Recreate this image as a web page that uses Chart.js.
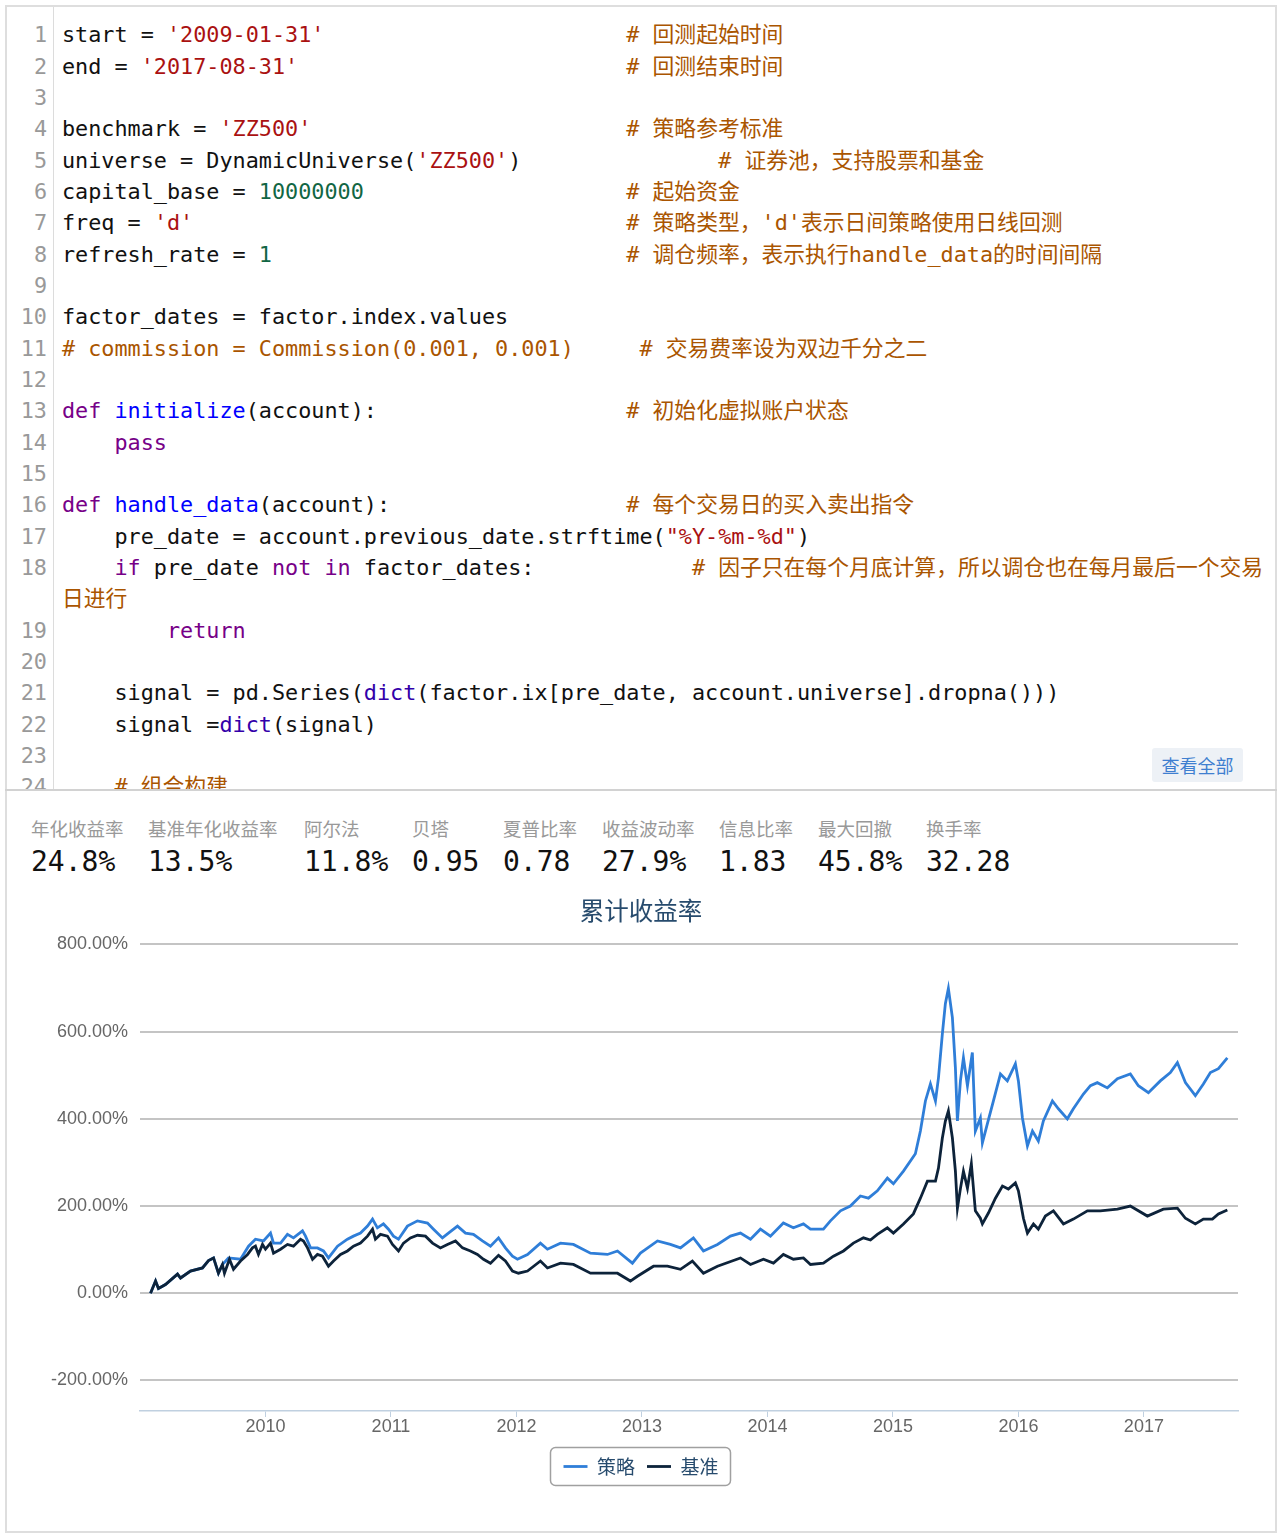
<!DOCTYPE html>
<html>
<head>
<meta charset="utf-8">
<script src="https://cdn.jsdelivr.net/npm/chart.js@4/dist/chart.umd.min.js"></script>
<style>
  body { margin: 0; width: 1280px; height: 1537px; position: relative; overflow: hidden; background: #fff; font-family: 'Noto Sans CJK SC', sans-serif; }
  #frame { position: absolute; left: 5px; top: 5px; width: 1268px; height: 1524px; border: 2px solid #dedede; }
  #code { position: absolute; left: 7px; top: 7px; width: 1266px; height: 783px; overflow: hidden; }
  #gutter { position: absolute; left: 0; top: 0; width: 46px; height: 100%; border-right: 1px solid #dcdcdc; }
  #rows { position: absolute; left: 0; top: 12.3px; width: 100%; }
  .row { position: relative; height: 31.33px; line-height: 31.33px; white-space: pre; font-family: 'DejaVu Sans Mono', 'Noto Sans CJK SC', monospace; font-size: 21.8px; color: #111; }
  .num { position: absolute; left: 0; width: 40px; text-align: right; color: #999; }
  .txt { position: absolute; left: 55px; }
  .s { color: #a11; } .n { color: #164; } .c { color: #a50; } .k { color: #708; } .d { color: #00f; } .b { color: #30a; }
  #more { position: absolute; left: 1145px; top: 741px; width: 91px; height: 34px; line-height: 34px; text-align: center; background: #edf1f6; color: #3f7fd0; font-size: 18px; border-radius: 3px; }
  #sep { position: absolute; left: 5px; top: 789px; width: 1272px; height: 2px; background: #d2d2d2; }
  .lab { position: absolute; top: 815px; font-size: 18.5px; line-height: 26px; color: #999; white-space: nowrap; }
  .val { position: absolute; top: 844px; font-family: 'DejaVu Sans Mono', monospace; font-size: 28px; line-height: 36px; color: #111; white-space: nowrap; }
  #chartBox { position: absolute; left: 0; top: 888px; width: 1280px; height: 612px; }
</style>
</head>
<body>
<div id="frame"></div>
<div id="code"><div id="gutter"></div><div id="rows"></div><div id="more">查看全部</div></div>
<div id="sep"></div>
<div id="stats"></div>
<div id="chartBox"><canvas id="graficoRetorno"></canvas></div>
<script>
// ---- datos ----
const statLabels = ['年化收益率', '基准年化收益率', '阿尔法', '贝塔', '夏普比率', '收益波动率', '信息比率', '最大回撤', '换手率'];
const statValues = ['24.8%', '13.5%', '11.8%', '0.95', '0.78', '27.9%', '1.83', '45.8%', '32.28'];
const statLeft = [31, 148, 304, 412, 503, 602, 719, 818, 926];

const seriesNames = ['策略', '基准'];
const xTicks = [2010, 2011, 2012, 2013, 2014, 2015, 2016, 2017];
const yTicks = [-200, 0, 200, 400, 600, 800];

const stratDates = [2009.084, 2009.124, 2009.147, 2009.203, 2009.299, 2009.323, 2009.402, 2009.498, 2009.546, 2009.586, 2009.625, 2009.657, 2009.705, 2009.801, 2009.865, 2009.920, 2009.984,
  2010.040, 2010.064, 2010.120, 2010.175, 2010.223, 2010.295, 2010.319, 2010.359, 2010.414, 2010.462, 2010.502, 2010.574, 2010.653, 2010.701, 2010.757, 2010.813, 2010.853, 2010.892, 2010.940, 2010.980,
  2011.020, 2011.060, 2011.131, 2011.211, 2011.291, 2011.339, 2011.410, 2011.458, 2011.530, 2011.594, 2011.657, 2011.729, 2011.793, 2011.857, 2011.912, 2011.968,
  2012.008, 2012.088, 2012.191, 2012.247, 2012.351, 2012.454, 2012.590, 2012.725, 2012.805, 2012.924, 2012.988,
  2013.124, 2013.227, 2013.307, 2013.410, 2013.490, 2013.602, 2013.705, 2013.785, 2013.865, 2013.944,
  2014.024, 2014.127, 2014.207, 2014.287, 2014.343, 2014.446, 2014.502, 2014.582, 2014.661, 2014.741, 2014.805, 2014.876, 2014.956,
  2015.004, 2015.084, 2015.179, 2015.219, 2015.259, 2015.299, 2015.339, 2015.363, 2015.394, 2015.418, 2015.442, 2015.474, 2015.498, 2015.514, 2015.538, 2015.562, 2015.594, 2015.633, 2015.657, 2015.697, 2015.713, 2015.753, 2015.801, 2015.857, 2015.912, 2015.976,
  2016.000, 2016.032, 2016.072, 2016.112, 2016.159, 2016.199, 2016.271, 2016.319, 2016.390, 2016.438, 2016.518, 2016.574, 2016.629, 2016.709, 2016.789, 2016.892, 2016.956,
  2017.036, 2017.131, 2017.211, 2017.267, 2017.331, 2017.410, 2017.474, 2017.530, 2017.594, 2017.665];
const stratValues = [0, 28, 11, 20, 44, 35, 51, 58, 75, 81, 46, 66, 81, 78, 108, 124, 120,
  138, 115, 115, 135, 127, 143, 131, 104, 104, 97, 81, 108, 124, 131, 138, 154, 170, 150, 159, 147,
  131, 124, 154, 166, 161, 147, 127, 138, 154, 138, 135, 120, 108, 127, 104, 85,
  78, 89, 115, 101, 115, 112, 92, 89, 97, 69, 92,
  120, 112, 104, 127, 97, 112, 131, 138, 124, 147,
  131, 161, 150, 159, 147, 147, 166, 189, 200, 223, 218, 235, 264,
  251, 280, 320, 372, 441, 480, 441, 494, 595, 664, 699, 632, 517, 395, 487, 540, 476, 552, 372, 402, 345, 389, 441, 503, 487, 526,
  487, 402, 338, 372, 349, 395, 441, 423, 400, 423, 457, 476, 483, 471, 492, 503, 476,
  460, 487, 506, 529, 483, 453, 480, 506, 515, 540];

const benchDates = [2009.084, 2009.124, 2009.147, 2009.203, 2009.299, 2009.323, 2009.402, 2009.498, 2009.546, 2009.586, 2009.625, 2009.657, 2009.673, 2009.713, 2009.745, 2009.801, 2009.857, 2009.896, 2009.920, 2009.944, 2009.976,
  2010.000, 2010.040, 2010.064, 2010.120, 2010.175, 2010.223, 2010.279, 2010.303, 2010.335, 2010.375, 2010.414, 2010.454, 2010.502, 2010.542, 2010.598, 2010.653, 2010.701, 2010.757, 2010.813, 2010.853, 2010.876, 2010.916, 2010.972,
  2011.012, 2011.060, 2011.100, 2011.155, 2011.211, 2011.275, 2011.331, 2011.394, 2011.450, 2011.514, 2011.570, 2011.633, 2011.689, 2011.737, 2011.793, 2011.857, 2011.912, 2011.968,
  2012.016, 2012.088, 2012.191, 2012.247, 2012.351, 2012.454, 2012.590, 2012.693, 2012.805, 2012.908, 2012.964,
  2013.092, 2013.203, 2013.307, 2013.402, 2013.490, 2013.602, 2013.785, 2013.865, 2013.968,
  2014.048, 2014.127, 2014.207, 2014.287, 2014.343, 2014.446, 2014.526, 2014.606, 2014.685, 2014.765, 2014.821, 2014.876, 2014.956,
  2015.004, 2015.084, 2015.163, 2015.219, 2015.275, 2015.339, 2015.363, 2015.394, 2015.418, 2015.442, 2015.474, 2015.498, 2015.514, 2015.538, 2015.562, 2015.594, 2015.625, 2015.657, 2015.697, 2015.713, 2015.761, 2015.817, 2015.873, 2015.920, 2015.976,
  2016.000, 2016.040, 2016.072, 2016.120, 2016.159, 2016.215, 2016.279, 2016.359, 2016.438, 2016.550, 2016.653, 2016.789, 2016.892,
  2017.028, 2017.155, 2017.267, 2017.331, 2017.410, 2017.474, 2017.546, 2017.594, 2017.665];
const benchValues = [0, 28, 11, 20, 44, 35, 51, 58, 75, 81, 46, 66, 46, 78, 55, 74, 89, 104, 108, 89, 112,
  101, 115, 92, 101, 112, 108, 124, 120, 104, 78, 89, 85, 62, 74, 89, 97, 108, 115, 131, 147, 124, 135, 131,
  112, 97, 115, 127, 133, 131, 115, 104, 112, 120, 104, 97, 89, 78, 69, 87, 74, 51,
  46, 51, 74, 58, 69, 66, 46, 46, 46, 28, 39,
  62, 62, 55, 74, 46, 62, 81, 66, 78,
  69, 89, 78, 81, 66, 69, 85, 97, 115, 127, 122, 135, 150,
  138, 159, 182, 218, 257, 257, 287, 356, 395, 418, 356, 280, 195, 240, 280, 241, 297, 189, 172, 159, 184, 218, 246, 239, 253,
  235, 172, 138, 159, 147, 177, 189, 159, 170, 189, 189, 193, 200,
  177, 193, 195, 172, 159, 170, 170, 182, 191];

// ---- código ----
const codeLines = [
  [[['', 'start = '], ['s', "'2009-01-31'"]], 43, '# 回测起始时间'],
  [[['', 'end = '], ['s', "'2017-08-31'"]], 43, '# 回测结束时间'],
  [[]],
  [[['', 'benchmark = '], ['s', "'ZZ500'"]], 43, '# 策略参考标准'],
  [[['', 'universe = DynamicUniverse('], ['s', "'ZZ500'"], ['', ')']], 50, '# 证券池，支持股票和基金'],
  [[['', 'capital_base = '], ['n', '10000000']], 43, '# 起始资金'],
  [[['', 'freq = '], ['s', "'d'"]], 43, "# 策略类型，'d'表示日间策略使用日线回测"],
  [[['', 'refresh_rate = '], ['n', '1']], 43, '# 调仓频率，表示执行handle_data的时间间隔'],
  [[]],
  [[['', 'factor_dates = factor.index.values']]],
  [[['c', '# commission = Commission(0.001, 0.001)']], 44, '# 交易费率设为双边千分之二'],
  [[]],
  [[['k', 'def'], ['', ' '], ['d', 'initialize'], ['', '(account):']], 43, '# 初始化虚拟账户状态'],
  [[['', '    '], ['k', 'pass']]],
  [[]],
  [[['k', 'def'], ['', ' '], ['d', 'handle_data'], ['', '(account):']], 43, '# 每个交易日的买入卖出指令'],
  [[['', '    pre_date = account.previous_date.strftime('], ['s', '"%Y-%m-%d"'], ['', ')']]],
  [[['', '    '], ['k', 'if'], ['', ' pre_date '], ['k', 'not'], ['', ' '], ['k', 'in'], ['', ' factor_dates:']], 48, '# 因子只在每个月底计算，所以调仓也在每月最后一个交易', '日进行'],
  [[['', '        '], ['k', 'return']]],
  [[]],
  [[['', '    signal = pd.Series('], ['b', 'dict'], ['', '(factor.ix[pre_date, account.universe].dropna()))']]],
  [[['', '    signal ='], ['b', 'dict'], ['', '(signal)']]],
  [[]],
  [[['', '    '], ['c', '# 组合构建']]]
];

const rows = document.getElementById('rows');
let html = '';
codeLines.forEach((line, i) => {
  const [parts, col, comment, wrap] = line;
  let len = 0;
  let txt = parts.map(([cls, t]) => { len += t.length; return cls ? `<span class="${cls}">${t}</span>` : t; }).join('');
  if (comment) txt += ' '.repeat(col - len) + `<span class="c">${comment}</span>`;
  html += `<div class="row"><span class="num">${i + 1}</span><span class="txt">${txt}</span></div>`;
  if (wrap) html += `<div class="row"><span class="txt"><span class="c">${wrap}</span></span></div>`;
});
rows.innerHTML = html;

const stats = document.getElementById('stats');
stats.innerHTML = statLabels.map((l, i) =>
  `<div class="lab" style="left:${statLeft[i]}px">${l}</div><div class="val" style="left:${statLeft[i]}px">${statValues[i]}</div>`
).join('');

// ---- gráfico ----
const legendBox = {
  id: 'legendBox',
  afterDraw(chart) {
    const boxes = chart.legend && chart.legend.legendHitBoxes;
    if (!boxes || !boxes.length) return;
    const first = boxes[0], last = boxes[boxes.length - 1];
    const left = first.left - 13, right = last.left + last.width + 12;
    const mid = first.top + first.height / 2;
    const ctx = chart.ctx;
    ctx.save();
    ctx.strokeStyle = '#a0a0a0';
    ctx.lineWidth = 1.5;
    ctx.beginPath();
    ctx.roundRect(left, mid - 19, right - left, 38, 5);
    ctx.stroke();
    ctx.restore();
  }
};

const toPoints = (xs, ys) => xs.map((x, i) => ({ x: x, y: ys[i] }));

new Chart(document.getElementById('graficoRetorno').getContext('2d'), {
  type: 'line',
  data: {
    datasets: [{
      label: seriesNames[0],
      data: toPoints(stratDates, stratValues),
      borderColor: '#2f7ed8',
      backgroundColor: '#2f7ed8',
      borderWidth: 2.8,
      pointRadius: 0,
      tension: 0,
      order: 1
    }, {
      label: seriesNames[1],
      data: toPoints(benchDates, benchValues),
      borderColor: '#0d233a',
      backgroundColor: '#0d233a',
      borderWidth: 2.8,
      pointRadius: 0,
      tension: 0,
      order: 0
    }]
  },
  options: {
    responsive: true,
    maintainAspectRatio: false,
    animation: false,
    devicePixelRatio: 1,
    layout: { padding: { left: 44, right: 42, top: 0, bottom: 14 } },
    plugins: {
      title: {
        display: true,
        text: '累计收益率',
        color: '#274b6d',
        font: { family: 'Noto Sans CJK SC', size: 24.5, weight: 'normal' },
        padding: { top: 8, bottom: 19 }
      },
      legend: {
        display: true,
        position: 'bottom',
        labels: {
          color: '#274b6d',
          font: { family: 'Noto Sans CJK SC', size: 19 },
          usePointStyle: true,
          pointStyle: 'line',
          pointStyleWidth: 24,
          padding: 12,
          sort: (a, b) => a.datasetIndex - b.datasetIndex
        }
      },
      tooltip: { enabled: false }
    },
    scales: {
      x: {
        type: 'linear',
        min: 2009.0,
        max: 2017.75,
        afterBuildTicks: s => { s.ticks = xTicks.map(v => ({ value: v })); },
        afterFit: s => { s.height = 34; },
        grid: { drawOnChartArea: false, drawTicks: true, tickLength: 6, color: '#c0d0e0' },
        border: { display: true, color: '#c0d0e0', width: 1.5 },
        ticks: {
          color: '#666',
          font: { family: 'Liberation Sans', size: 18 },
          padding: -1,
          maxRotation: 0,
          callback: v => String(v)
        }
      },
      y: {
        min: -270,
        max: 800,
        afterBuildTicks: s => { s.ticks = yTicks.map(v => ({ value: v })); },
        afterFit: s => { s.width = 96; },
        grid: { drawTicks: false, color: '#c4c4c4', lineWidth: 2 },
        border: { display: false },
        ticks: {
          color: '#666',
          font: { family: 'Liberation Sans', size: 18 },
          padding: 12,
          callback: v => v.toFixed(2) + '%'
        }
      }
    }
  },
  plugins: [legendBox]
});
</script>
</body>
</html>
